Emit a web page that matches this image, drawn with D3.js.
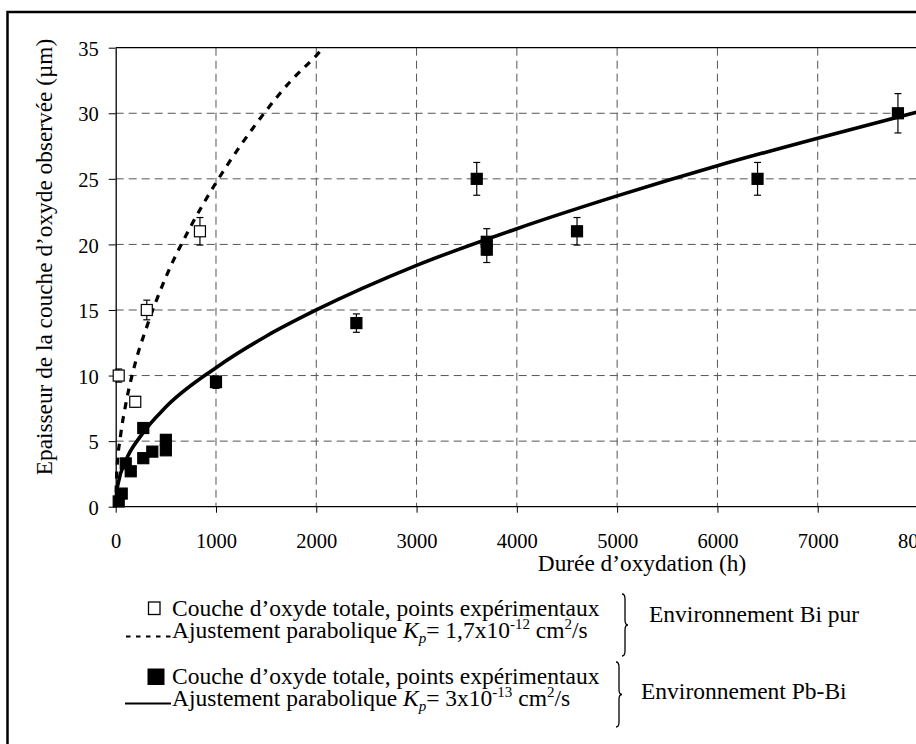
<!DOCTYPE html>
<html>
<head>
<meta charset="utf-8">
<script src="https://cdn.jsdelivr.net/npm/d3@7"></script>
<style>
  body { margin: 0; background: #fff; }
  svg { display: block; font-family: "Liberation Serif", "Times New Roman", serif; }
  svg text { font-family: "Liberation Serif", "Times New Roman", serif; }
</style>
</head>
<body>
<svg id="chart" width="916" height="744"></svg>
<script>
// axis ticks
const xTicks = [0, 1000, 2000, 3000, 4000, 5000, 6000, 7000, 8000];
const yTicks = [0, 5, 10, 15, 20, 25, 30, 35];

// Bi pur : experimental points (open squares)
const biHours = [30, 195, 310, 840];
const biThick = [10, 8, 15, 21];
const biErr = [0.5, 0.4, 0.75, 1.05];

// Pb-Bi : experimental points (filled squares)
const pbHours = [30, 60, 100, 150, 275, 275, 365, 500, 500, 1000, 2400, 3600, 3700, 3700, 4600, 6400, 7800];
const pbThick = [0.4, 1.0, 3.3, 2.7, 3.7, 6.0, 4.2, 4.3, 5.1, 9.5, 14, 25, 20.2, 19.6, 21, 25, 30];
const pbErr = [0.02, 0.05, 0.17, 0.14, 0.19, 0.3, 0.21, 0.22, 0.26, 0.48, 0.7, 1.25, 1.0, 0.98, 1.05, 1.25, 1.5];

// parabolic fits
const fitBiHours = [0, 10, 50, 100, 200, 300, 500, 750, 1000, 1250, 1500, 1750, 2000, 2070];
const fitBiThick = [0, 2.5, 5.5, 7.8, 11.1, 13.5, 17.5, 21.4, 24.7, 27.6, 30.2, 32.5, 34.4, 35];
const fitPbHours = [0, 10, 25, 100, 250, 500, 1000, 1500, 2000, 3000, 4000, 5000, 6000, 7000, 8000];
const fitPbThick = [0, 1.1, 1.8, 3.5, 5.4, 7.6, 10.6, 13.0, 15.0, 18.4, 21.2, 23.7, 26.0, 28.1, 30.1];

const svg = d3.select("#chart");

var x = d3.scaleLinear().domain([0, 8000]).range([115.7, 918]);
var y = d3.scaleLinear().domain([0, 35]).range([506.7, 47.7]);

// outer frame
svg.append("rect")
  .attr("x", 7.5).attr("y", 12)
  .attr("width", 1000).attr("height", 800)
  .attr("fill", "none").attr("stroke", "#000").attr("stroke-width", 2.5);

// grid
svg.append("g").selectAll("line")
  .data(yTicks.filter(d => d > 0 && d < 35))
  .enter().append("line")
  .attr("x1", x(0)).attr("x2", 916)
  .attr("y1", d => y(d)).attr("y2", d => y(d))
  .attr("stroke", "#555").attr("stroke-width", 1)
  .attr("stroke-dasharray", "8,5");

svg.append("g").selectAll("line")
  .data(xTicks.filter(d => d > 0))
  .enter().append("line")
  .attr("x1", d => x(d)).attr("x2", d => x(d))
  .attr("y1", y(35)).attr("y2", y(0))
  .attr("stroke", "#555").attr("stroke-width", 1)
  .attr("stroke-dasharray", "8,5");

// top border of the plot area
svg.append("line")
  .attr("x1", x(0)).attr("x2", 916)
  .attr("y1", y(35)).attr("y2", y(35))
  .attr("stroke", "#000").attr("stroke-width", 1.2);

// axes
var xAxis = svg.append("g")
  .attr("transform", "translate(0," + y(0) + ")")
  .call(d3.axisBottom(x).tickValues(xTicks).tickSize(6).tickSizeOuter(0).tickFormat(d3.format("d")))
  .attr("font-family", null);
xAxis.select(".domain").attr("d", "M" + x(0) + ",0H916").attr("stroke-width", 1.3);
xAxis.selectAll("text")
  .attr("y", 41).attr("dy", null)
  .style("font-family", "'Liberation Serif', serif")
  .style("font-size", "20.5px").attr("fill", "#000");

var yAxis = svg.append("g")
  .attr("transform", "translate(" + x(0) + ",0)")
  .call(d3.axisLeft(y).tickValues(yTicks).tickSize(7).tickSizeOuter(0))
  .attr("font-family", null);
yAxis.select(".domain").attr("stroke-width", 1.3);
yAxis.selectAll("text")
  .attr("x", -17).attr("dy", "0.37em")
  .style("font-family", "'Liberation Serif', serif")
  .style("font-size", "20.5px").attr("fill", "#000");

// axis titles
svg.append("text")
  .attr("x", 642).attr("y", 571)
  .attr("text-anchor", "middle")
  .style("font-size", "23.3px")
  .text("Durée d’oxydation (h)");

svg.append("text")
  .attr("transform", "translate(52,257) rotate(-90)")
  .attr("text-anchor", "middle")
  .style("font-size", "23.3px")
  .text("Epaisseur de la couche d’oxyde observée (µm)");

// fit curves
var line = d3.line()
  .x(d => x(d[0]))
  .y(d => y(d[1]))
  .curve(d3.curveMonotoneX);

svg.append("path")
  .datum(d3.zip(fitBiHours, fitBiThick))
  .attr("d", line)
  .attr("fill", "none").attr("stroke", "#000")
  .attr("stroke-width", 3.2)
  .attr("stroke-dasharray", "7,7");

svg.append("path")
  .datum(d3.zip(fitPbHours, fitPbThick))
  .attr("d", line)
  .attr("fill", "none").attr("stroke", "#000")
  .attr("stroke-width", 3.6);

// error bars + markers
var drawSeries = function (hours, thick, err, fill) {
  var pts = hours.map((h, i) => ({ h: h, v: thick[i], e: err[i] }));
  var g = svg.append("g");
  var bars = g.selectAll("g.err").data(pts).enter().append("g").attr("class", "err");
  bars.append("line")
    .attr("x1", d => x(d.h)).attr("x2", d => x(d.h))
    .attr("y1", d => y(d.v - d.e)).attr("y2", d => y(d.v + d.e))
    .attr("stroke", "#000").attr("stroke-width", 1.2);
  [-1, 1].forEach(function (s) {
    bars.append("line")
      .attr("x1", d => x(d.h) - 3.5).attr("x2", d => x(d.h) + 3.5)
      .attr("y1", d => y(d.v + s * d.e)).attr("y2", d => y(d.v + s * d.e))
      .attr("stroke", "#000").attr("stroke-width", 1.2);
  });
  g.selectAll("rect").data(pts).enter().append("rect")
    .attr("x", d => x(d.h) - 5.5)
    .attr("y", d => y(d.v) - 5.5)
    .attr("width", 11).attr("height", 11)
    .attr("fill", fill)
    .attr("stroke", "#000").attr("stroke-width", 1.2);
};
drawSeries(biHours, biThick, biErr, "#fff");
drawSeries(pbHours, pbThick, pbErr, "#000");

// legend
var legendText = function (yBase, parts) {
  var t = svg.append("text")
    .attr("x", 172).attr("y", yBase)
    .style("font-size", "23.5px");
  parts.forEach(function (p) {
    var s = t.append("tspan").text(p.t);
    if (p.i) s.style("font-style", "italic");
    if (p.sub) s.attr("dy", 5).style("font-size", "15px");
    if (p.sup) s.attr("dy", -9).style("font-size", "15px");
    if (p.back) s.attr("dy", p.back);
  });
};
var kpText = function (val, exp) {
  return [
    { t: "Ajustement parabolique " },
    { t: "K", i: true },
    { t: "p", i: true, sub: true },
    { t: "= " + val + "x10", back: -5 },
    { t: exp, sup: true },
    { t: " cm", back: 9 },
    { t: "2", sup: true },
    { t: "/s", back: 9 }
  ];
};

svg.append("rect")
  .attr("x", 148.5).attr("y", 602)
  .attr("width", 11.5).attr("height", 12.5)
  .attr("fill", "#fff").attr("stroke", "#000").attr("stroke-width", 1.3);
legendText(615.5, [{ t: "Couche d’oxyde totale, points expérimentaux" }]);
svg.append("line")
  .attr("x1", 126).attr("x2", 171).attr("y1", 636.5).attr("y2", 636.5)
  .attr("stroke", "#000").attr("stroke-width", 2)
  .attr("stroke-dasharray", "4.5,5.5");
legendText(637.5, kpText("1,7", "-12"));

svg.append("rect")
  .attr("x", 147.5).attr("y", 668.5)
  .attr("width", 17).attr("height", 16.5)
  .attr("fill", "#000");
legendText(683.5, [{ t: "Couche d’oxyde totale, points expérimentaux" }]);
svg.append("line")
  .attr("x1", 125).attr("x2", 171).attr("y1", 703.5).attr("y2", 703.5)
  .attr("stroke", "#000").attr("stroke-width", 2);
legendText(705.5, kpText("3", "-13"));

// braces
var brace = function (bx, y1, y2) {
  var m = (y1 + y2) / 2, w = 3, r = 5;
  return "M" + bx + "," + y1 +
    "Q" + (bx + w) + "," + y1 + " " + (bx + w) + "," + (y1 + r) +
    "L" + (bx + w) + "," + (m - r) +
    "Q" + (bx + w) + "," + m + " " + (bx + 2 * w) + "," + m +
    "Q" + (bx + w) + "," + m + " " + (bx + w) + "," + (m + r) +
    "L" + (bx + w) + "," + (y2 - r) +
    "Q" + (bx + w) + "," + y2 + " " + bx + "," + y2;
};
svg.append("path").attr("d", brace(622, 594, 656))
  .attr("fill", "none").attr("stroke", "#000").attr("stroke-width", 1.3);
svg.append("path").attr("d", brace(616, 662, 727))
  .attr("fill", "none").attr("stroke", "#000").attr("stroke-width", 1.3);

svg.append("text")
  .attr("x", 649).attr("y", 622)
  .style("font-size", "23.5px")
  .text("Environnement Bi pur");
svg.append("text")
  .attr("x", 641).attr("y", 699)
  .style("font-size", "23.5px")
  .text("Environnement Pb-Bi");
</script>
</body>
</html>
